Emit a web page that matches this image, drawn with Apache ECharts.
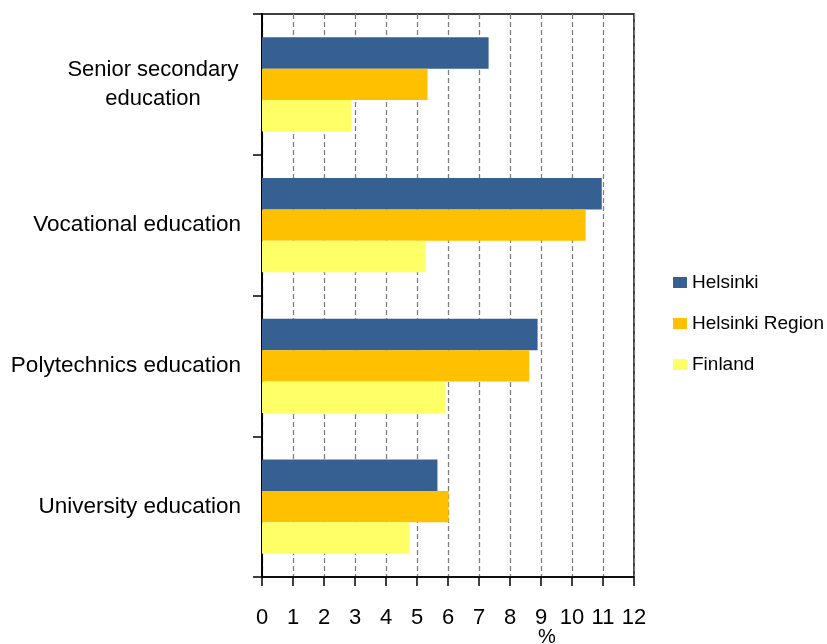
<!DOCTYPE html>
<html>
<head>
<meta charset="utf-8">
<script src="https://cdn.jsdelivr.net/npm/echarts@6/dist/echarts.min.js"></script>
<style>
  html, body { margin: 0; padding: 0; background: #fff; }
  #chart { width: 827px; height: 644px; }
</style>
</head>
<body>
<div id="chart"></div>
<script>
// Education levels, listed top to bottom
const categories = [
  'Senior secondary education',
  'Vocational education',
  'Polytechnics education',
  'University education'
];

// Share (%) by area
const helsinki       = [7.31, 10.96, 8.89, 5.66];
const helsinkiRegion = [5.34, 10.44, 8.62, 6.02];
const finland        = [2.89, 5.28, 5.91, 4.76];

const seriesNames = ['Helsinki', 'Helsinki Region', 'Finland'];
const seriesColors = ['#376092', '#FFC000', '#FFFF66'];

const xTicks = { min: 0, max: 12, interval: 1 };
const axisUnit = '%';

const FONT = '"Liberation Sans", Arial, sans-serif';

const chart = echarts.init(document.getElementById('chart'));

const option = {
  animation: false,
  backgroundColor: '#ffffff',
  grid: {
    left: 262, right: 193, top: 14, bottom: 67,
    show: true, borderColor: '#000', borderWidth: 1.5,
    containLabel: false
  },
  legend: {
    orient: 'vertical',
    left: 673, top: 273,
    padding: 0,
    itemWidth: 14, itemHeight: 11, itemGap: 22,
    icon: 'rect',
    textStyle: { fontFamily: FONT, fontSize: 19, color: '#000' },
    data: seriesNames
  },
  xAxis: {
    type: 'value',
    min: xTicks.min, max: xTicks.max, interval: xTicks.interval,
    axisLine: { show: true, lineStyle: { color: '#000', width: 1.5 } },
    axisTick: { show: true, length: 9, lineStyle: { color: '#000', width: 1.5 } },
    axisLabel: { fontFamily: FONT, fontSize: 22, color: '#000', margin: 30 },
    splitLine: { show: true, lineStyle: { color: '#808080', type: [5, 3], width: 1.3 } }
  },
  yAxis: {
    type: 'category',
    inverse: true,
    data: categories,
    axisLine: { show: true, lineStyle: { color: '#000', width: 2 } },
    axisTick: { show: true, length: 9, lineStyle: { color: '#000', width: 1.5 } },
    axisLabel: {
      fontFamily: FONT, fontSize: 22.5, color: '#000', margin: 21,
      formatter: function (v) {
        if (v === 'Senior secondary education') {
          return '{c|Senior secondary}\n{c|education}';
        }
        return v;
      },
      rich: {
        c: { width: 176, align: 'center', fontFamily: FONT, fontSize: 22, lineHeight: 29, color: '#000' }
      }
    },
    splitLine: { show: false }
  },
  series: [
    { name: seriesNames[0], type: 'bar', data: helsinki,
      itemStyle: { color: seriesColors[0] }, barGap: '0%', barCategoryGap: '33%' },
    { name: seriesNames[1], type: 'bar', data: helsinkiRegion,
      itemStyle: { color: seriesColors[1] }, barGap: '0%', barCategoryGap: '33%' },
    { name: seriesNames[2], type: 'bar', data: finland,
      itemStyle: { color: seriesColors[2] }, barGap: '0%', barCategoryGap: '33%' }
  ],
  graphic: [
    { type: 'text', left: 538, top: 627,
      style: { text: axisUnit, fontFamily: FONT, fontSize: 20, fill: '#000' } }
  ]
};

chart.setOption(option);
</script>
</body>
</html>
